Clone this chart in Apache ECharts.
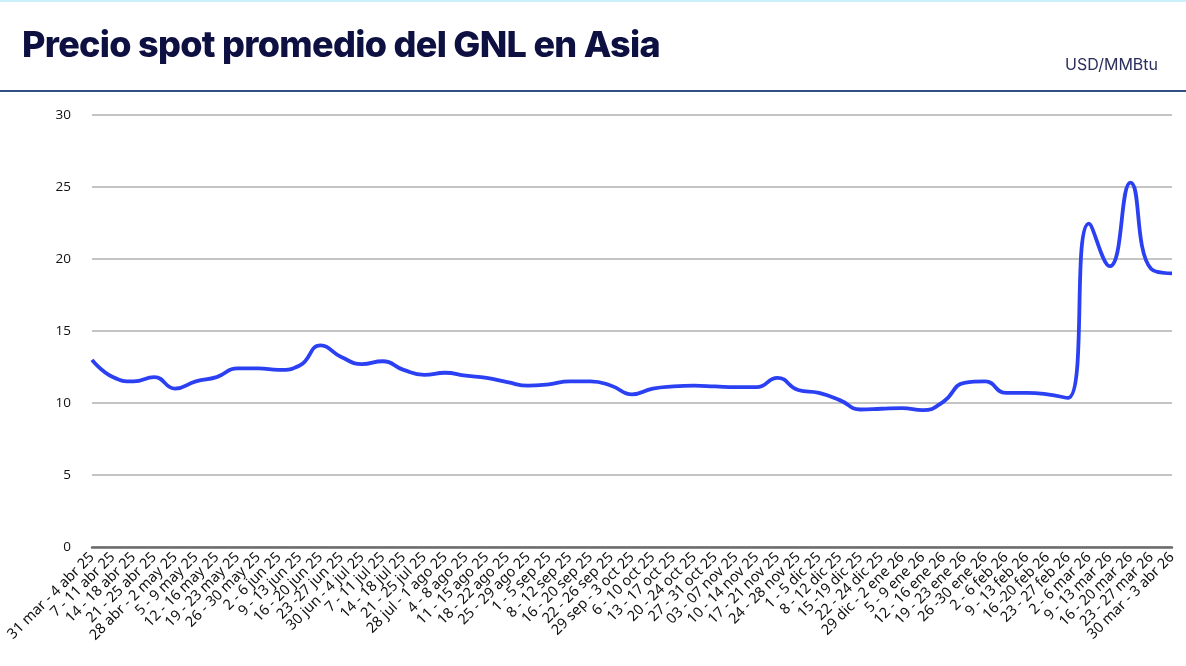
<!DOCTYPE html>
<html>
<head>
<meta charset="utf-8">
<script src="https://cdn.jsdelivr.net/npm/echarts@6/dist/echarts.min.js"></script>
<style>
  html, body { margin: 0; padding: 0; background: #fff; }
  #wrap { position: relative; width: 1186px; height: 666px; overflow: hidden; border-top: 2px solid #cdeffa; box-sizing: border-box; }
  #title { position: absolute; left: 22px; top: 20px; font-family: Inter, sans-serif; font-weight: 800; font-size: 36px; letter-spacing: -0.7px; color: #0d1040; white-space: nowrap; }
  #unit { position: absolute; right: 28px; top: 52px; font-family: Inter, sans-serif; font-size: 16px; color: #2b2e5c; }
  #rule { position: absolute; left: 0; right: 0; top: 88px; height: 2px; background: #2f5080; }
  #chart { position: absolute; left: 0; top: 0; width: 1186px; height: 666px; }
</style>
</head>
<body>
<div id="wrap">
  <div id="chart"></div>
  <div id="title">Precio spot promedio del GNL en Asia</div>
  <div id="unit">USD/MMBtu</div>
  <div id="rule"></div>
</div>
<script>
// semanas (eje x)
var weeks = [
  '31 mar - 4 abr 25', '7 - 11 abr 25', '14 - 18 abr 25', '21 - 25 abr 25', '28 abr - 2 may 25',
  '5 - 9 may 25', '12 - 16 may 25', '19 - 23 may 25', '26 - 30 may 25', '2 - 6 jun 25',
  '9 - 13 jun 25', '16 - 20 jun 25', '23 -27 jun 25', '30 jun - 4 jul 25', '7 - 11 jul 25',
  '14 - 18 jul 25', '21 - 25 jul 25', '28 jul - 1 ago 25', '4 - 8 ago 25', '11 - 15 ago 25',
  '18 - 22 ago 25', '25 - 29 ago 25', '1 - 5 sep 25', '8 - 12 sep 25', '16 - 20 sep 25',
  '22 - 26 sep 25', '29 sep - 3 oct 25', '6 - 10 oct 25', '13 - 17 oct 25', '20 - 24 oct 25',
  '27 - 31 oct 25', '03 - 07 nov 25', '10 - 14 nov 25', '17 - 21 nov 25', '24 - 28 nov 25',
  '1 - 5 dic 25', '8 - 12 dic 25', '15 -19 dic 25', '22 - 24 dic 25', '29 dic - 2 ene 26',
  '5 - 9 ene 26', '12 - 16 ene 26', '19 - 23 ene 26', '26 -30 ene 26', '2 - 6 feb 26',
  '9 - 13 feb 26', '16 -20 feb 26', '23 - 27 feb 26', '2 - 6 mar 26', '9 - 13 mar 26',
  '16 - 20 mar 26', '23 - 27 mar 26', '30 mar - 3 abr 26'
];

// precio spot promedio, USD/MMBtu
var precio = [
  13.0, 11.8, 11.5, 11.8, 11.0, 11.5, 11.8, 12.4, 12.4, 12.3,
  12.6, 14.0, 13.2, 12.7, 12.9, 12.3, 11.95, 12.1, 11.9, 11.75,
  11.45, 11.2, 11.3, 11.5, 11.5, 11.2, 10.6, 11.0, 11.15, 11.2,
  11.15, 11.1, 11.1, 11.75, 10.9, 10.7, 10.2, 9.55, 9.6, 9.65,
  9.5, 10.1, 11.4, 11.5, 10.7, 10.7, 10.6, 10.35, 22.45, 19.5,
  25.3, 19.3, 19.0
];

var yTicks = [0, 5, 10, 15, 20, 25, 30];

var chart = echarts.init(document.getElementById('chart'));
chart.setOption({
  animation: false,
  grid: { left: 92, right: 14, top: 113, bottom: 121, containLabel: false },
  xAxis: {
    type: 'category',
    data: weeks,
    boundaryGap: false,
    axisLine: { lineStyle: { color: '#6b6b6b', width: 2.5 } },
    axisTick: { show: false },
    axisLabel: {
      interval: 0,
      rotate: 45,
      margin: 8,
      color: '#111',
      fontSize: 14.5,
      fontFamily: 'Noto Sans, sans-serif'
    },
    splitLine: { show: false }
  },
  yAxis: {
    type: 'value',
    min: yTicks[0],
    max: yTicks[yTicks.length - 1],
    interval: 5,
    axisLine: { show: false },
    axisTick: { show: false },
    axisLabel: { color: '#111', fontSize: 13.5, margin: 21, fontFamily: 'Open Sans, sans-serif' },
    splitLine: { lineStyle: { color: '#c4c4c4', width: 2 } }
  },
  series: [{
    name: 'Precio spot',
    type: 'line',
    data: precio,
    smooth: 0.5,
    showSymbol: false,
    lineStyle: { color: '#2b40f2', width: 3.8 },
    z: 5
  }]
});
</script>
</body>
</html>
